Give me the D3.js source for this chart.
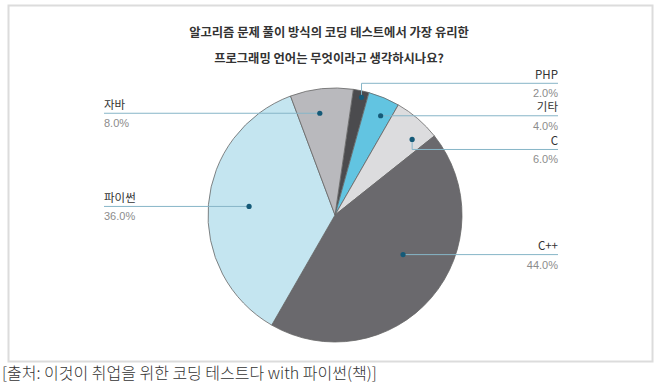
<!DOCTYPE html>
<html><head><meta charset="utf-8">
<script src="https://cdn.jsdelivr.net/npm/d3@7"></script>
<style>
html,body{margin:0;padding:0;background:#fff;}
svg{display:block;}
</style></head>
<body>
<script>
// ---- data ----
const categories = ["PHP", "기타", "C", "C++", "파이썬", "자바"];
const values = [2.0, 4.0, 6.0, 44.0, 36.0, 8.0];
const colors = ["#4b4b4e", "#62c4e1", "#dcdcde", "#6a696d", "#c4e5f0", "#b9b9bd"];
const titleLines = ["알고리즘 문제 풀이 방식의 코딩 테스트에서 가장 유리한", "프로그래밍 언어는 무엇이라고 생각하시나요?"];
const sourceText = "[출처: 이것이 취업을 위한 코딩 테스트다 with 파이썬(책)]";

// ---- layout (styling only) ----
const W = 663, H = 392;
const cx = 335, cy = 215, R = 127;
const startDeg = 8.3;
// per-slice: dot radius factor, angle offset (deg), side, line y offset from dot
const leader = [
  {rf: 0.95, da: 0.8, side: "right", elbow: -14},
  {rf: 0.86, da: 2.0, side: "right", elbow: 0},
  {rf: 0.85, da: 4.9, side: "right", elbow: 10},
  {rf: 0.62, da: -10.5, side: "right", elbow: 0},
  {rf: 0.68, da: 1.0, side: "left", elbow: 0},
  {rf: 0.81, da: -2.4, side: "left", elbow: 0}
];
const leftX = 104, rightX = 558;

const svg = d3.select("body").append("svg").attr("width", W).attr("height", H);

// frame
svg.append("rect").attr("x", 8.5).attr("y", 5.5).attr("width", 644).attr("height", 356)
  .attr("fill", "#fff").attr("stroke", "#dcdcdc").attr("stroke-width", 2);

// title
svg.append("g").selectAll("text").data(titleLines).join("text")
  .attr("x", 329).attr("y", (d, i) => 37 + i * 25.5)
  .attr("text-anchor", "middle")
  .attr("font-family", "'Noto Sans CJK KR', sans-serif")
  .attr("font-weight", 700).attr("font-size", 12.3).attr("fill", "#333")
  .text(d => d);

// pie
const pie = d3.pie().sort(null)
  .startAngle(startDeg * Math.PI / 180)
  .endAngle(startDeg * Math.PI / 180 + 2 * Math.PI);
const arcs = pie(values);
const arc = d3.arc().innerRadius(0).outerRadius(R);

const g = svg.append("g").attr("transform", `translate(${cx},${cy})`);
g.selectAll("path").data(arcs).join("path")
  .attr("d", arc)
  .attr("fill", (d, i) => colors[i])
  .attr("stroke", "#666").attr("stroke-width", 0.8);

// leaders
const lg = svg.append("g");
arcs.forEach((a, i) => {
  const L = leader[i];
  const ang = (a.startAngle + a.endAngle) / 2 + L.da * Math.PI / 180;
  const r = R * L.rf;
  const dx = cx + r * Math.sin(ang);
  const dy = cy - r * Math.cos(ang);
  const ly = dy + L.elbow;
  const endX = L.side === "right" ? rightX : leftX;
  let pts;
  if (L.elbow !== 0) pts = [[dx, dy], [dx, ly], [endX, ly]];
  else pts = [[dx, dy], [endX, ly]];
  lg.append("path").attr("d", d3.line()(pts))
    .attr("fill", "none").attr("stroke", "#86b5c7").attr("stroke-width", 1);
  lg.append("circle").attr("cx", dx).attr("cy", dy).attr("r", 2.6).attr("fill", "#155a78");
  const anchor = L.side === "right" ? "end" : "start";
  lg.append("text").attr("x", endX).attr("y", ly - 4.5)
    .attr("text-anchor", anchor)
    .attr("font-family", "'Noto Sans CJK KR', 'Liberation Sans', sans-serif")
    .attr("font-size", 11.5).attr("fill", "#333")
    .text(categories[i]);
  lg.append("text").attr("x", endX).attr("y", ly + 14)
    .attr("text-anchor", anchor)
    .attr("font-family", "'Liberation Sans', Arial, sans-serif")
    .attr("font-size", 11).attr("fill", "#8c8c8c")
    .text(values[i].toFixed(1) + "%");
});

// source
svg.append("text").attr("x", 2).attr("y", 379)
  .attr("font-family", "'Noto Sans CJK KR', sans-serif")
  .attr("font-size", 16).attr("fill", "#333").attr("font-weight", 300)
  .text(sourceText);
</script>
</body></html>
